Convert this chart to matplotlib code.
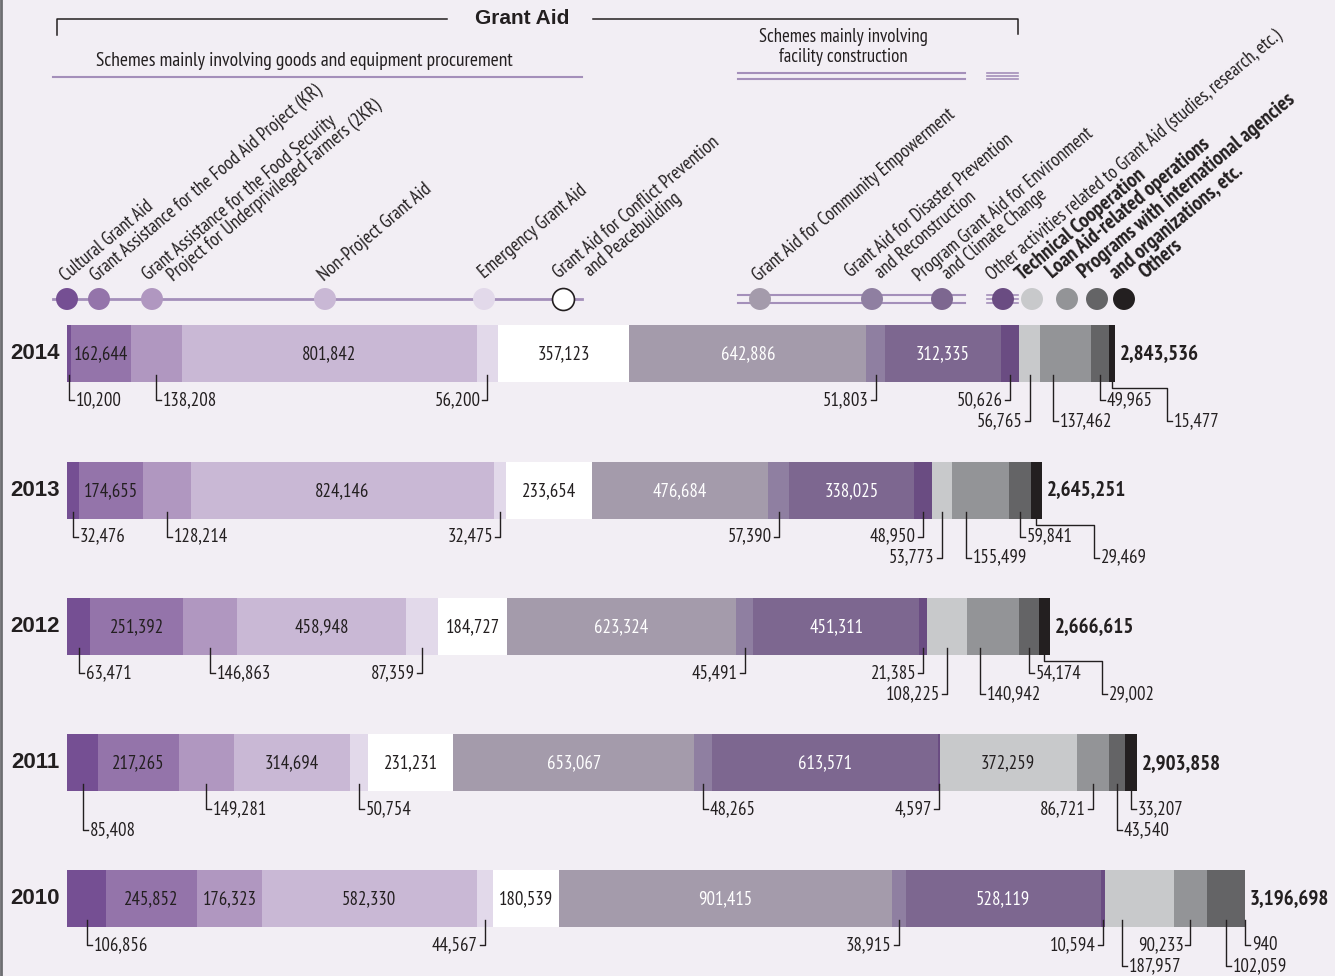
import matplotlib
matplotlib.use('Agg')
import matplotlib.pyplot as plt
from matplotlib import font_manager as fm
import numpy as np

# ---------------- data ----------------
years = ['2014', '2013', '2012', '2011', '2010']
categories = [
    'Cultural Grant Aid',
    'Grant Assistance for the Food Aid Project (KR)',
    'Grant Assistance for the Food Security\nProject for Underprivileged Farmers (2KR)',
    'Non-Project Grant Aid',
    'Emergency Grant Aid',
    'Grant Aid for Conflict Prevention\nand Peacebuilding',
    'Grant Aid for Community Empowerment',
    'Grant Aid for Disaster Prevention\nand Reconstruction',
    'Program Grant Aid for Environment\nand Climate Change',
    'Other activities related to Grant Aid (studies, research, etc.)',
    'Technical Cooperation',
    'Loan Aid-related operations',
    'Programs with international agencies\nand organizations, etc.',
    'Others',
]
v2014 = [10200, 162644, 138208, 801842, 56200, 357123, 642886, 51803, 312335, 50626, 56765, 137462, 49965, 15477]
v2013 = [32476, 174655, 128214, 824146, 32475, 233654, 476684, 57390, 338025, 48950, 53773, 155499, 59841, 29469]
v2012 = [63471, 251392, 146863, 458948, 87359, 184727, 623324, 45491, 451311, 21385, 108225, 140942, 54174, 29002]
v2011 = [85408, 217265, 149281, 314694, 50754, 231231, 653067, 48265, 613571, 4597, 372259, 86721, 43540, 33207]
v2010 = [106856, 245852, 176323, 582330, 44567, 180539, 901415, 38915, 528119, 10594, 187957, 90233, 102059, 940]
totals = [2843536, 2645251, 2666615, 2903858, 3196698]
values = [v2014, v2013, v2012, v2011, v2010]

# ---------------- styling ----------------
colors = ['#754f93', '#9474aa', '#b097c0', '#c9b8d5', '#e2d9ea', '#ffffff',
          '#a49bab', '#8f7fa1', '#7d6790', '#6a4c82',
          '#c8c9cb', '#939497', '#646466', '#231f20']
white_text = {6, 8}
BG = '#f2eef4'
DARK = '#231f20'
PURPLE_LINE = '#a48fba'

names = {f.name for f in fm.fontManager.ttflist}


def pick(cands, default='DejaVu Sans'):
    for c in cands:
        if c in names:
            return c
    return default


NARROW = dict(family=pick(['PT Sans Narrow', 'Roboto Condensed', 'Fira Sans Condensed',
                           'Liberation Sans Narrow']))
WIDE = pick(['Liberation Sans', 'DejaVu Sans'])

# which segments carry their label inside the bar
inside = [[1, 3, 5, 6, 8], [1, 3, 5, 6, 8], [1, 3, 5, 6, 8],
          [1, 3, 5, 6, 8, 10], [1, 2, 3, 5, 6, 8]]
# callouts: (segment, side of text, level)
callouts = [
    [(0, 'R', 1), (2, 'R', 1), (4, 'L', 1), (7, 'L', 1), (9, 'L', 1), (10, 'L', 2),
     (11, 'R', 2), (12, 'R', 1), (13, 'E', 2)],
    [(0, 'R', 1), (2, 'R', 1), (4, 'L', 1), (7, 'L', 1), (9, 'L', 1), (10, 'L', 2),
     (11, 'R', 2), (12, 'R', 1), (13, 'E', 2)],
    [(0, 'R', 1), (2, 'R', 1), (4, 'L', 1), (7, 'L', 1), (9, 'L', 1), (10, 'L', 2),
     (11, 'R', 2), (12, 'R', 1), (13, 'E', 2)],
    [(0, 'R', 2), (2, 'R', 1), (4, 'R', 1), (7, 'R', 1), (9, 'L', 1), (11, 'L', 1),
     (12, 'R', 2), (13, 'R', 1)],
    [(0, 'R', 1), (4, 'L', 1), (7, 'L', 1), (9, 'L', 1), (10, 'R', 2), (11, 'L', 1),
     (12, 'R', 2), (13, 'R', 1)],
]

# ---------------- figure ----------------
W, H = 1335, 976
fig = plt.figure(figsize=(W / 100, H / 100), dpi=100)
fig.patch.set_facecolor(BG)
ax = fig.add_axes([0, 0, 1, 1])
ax.set_facecolor(BG)
ax.axis('off')
X0 = 67
S = totals[-1] / 1178.0          # value units per pixel
ax.set_xlim(-X0 * S, (W - X0) * S)
ax.set_ylim(H, 0)


def px(p):
    return (p - X0) * S


bar_y = [353.5, 490, 626.5, 762.5, 898.5]
BAR_H = 57
NUM_FS = 13.5

for yi, vals in enumerate(values):
    vals = np.array(vals, dtype=float)
    lefts = np.concatenate([[0], np.cumsum(vals)[:-1]])
    yc = bar_y[yi]
    ax.barh(yc, vals, left=lefts, height=BAR_H, color=colors, edgecolor='none', zorder=2)
    for i in inside[yi]:
        ax.text(lefts[i] + vals[i] / 2, yc + 1, f'{int(vals[i]):,}', ha='center', va='center',
                fontsize=NUM_FS, color='white' if i in white_text else DARK, zorder=4, **NARROW)
    bottom = yc + BAR_H / 2
    for (i, side, lev) in callouts[yi]:
        w = vals[i] / S
        if i >= 10 and w >= 45:
            lx = lefts[i] + 0.25 * vals[i]
        else:
            lx = lefts[i] + vals[i] / 2
        ly = bottom + (18 if lev == 1 else 39)
        if side == 'E':
            ex = lefts[i] + vals[i] + 52 * S
            ax.plot([lx, lx, ex, ex, ex + 5 * S], [bottom - 7, bottom + 6, bottom + 6, ly, ly],
                    color=DARK, lw=1.0, zorder=3)
            ax.text(ex + 7 * S, ly, f'{int(vals[i]):,}', ha='left', va='center',
                    fontsize=NUM_FS, color=DARK, **NARROW)
        else:
            sgn = 1 if side == 'R' else -1
            ax.plot([lx, lx, lx + sgn * 5 * S], [bottom - 7, ly, ly], color=DARK, lw=1.0, zorder=3)
            ax.text(lx + sgn * 7 * S, ly, f'{int(vals[i]):,}', ha='left' if sgn > 0 else 'right',
                    va='center', fontsize=NUM_FS, color=DARK, **NARROW)
    ax.text(totals[yi] + 5 * S, yc + 1, f'{totals[yi]:,}', ha='left', va='center',
            fontsize=15, fontweight='bold', color=DARK, **NARROW)
    ax.text(px(35), yc, years[yi], ha='center', va='center', fontsize=16,
            fontweight='bold', color=DARK, family=WIDE)

# left border
ax.plot([px(1), px(1)], [0, H], color='#6d6e71', lw=2, zorder=5)

# ---------------- header ----------------
ax.plot([px(57), px(57), px(447)], [35, 19, 19], color=DARK, lw=1.1)
ax.plot([px(593), px(1018), px(1018)], [19, 19, 34], color=DARK, lw=1.1)
ax.text(px(522), 19, 'Grant Aid', ha='center', va='center', fontsize=15,
        fontweight='bold', color=DARK, family=WIDE)
ax.text(px(304), 61, 'Schemes mainly involving goods and equipment procurement',
        ha='center', va='center', fontsize=14, color=DARK, **NARROW)
ax.plot([px(53), px(582)], [77, 77], color=PURPLE_LINE, lw=1.5)
ax.text(px(843), 47, 'Schemes mainly involving\nfacility construction', ha='center',
        va='center', fontsize=13.5, color=DARK, linespacing=1.1, **NARROW)
for yy in (73, 79):
    ax.plot([px(738), px(965)], [yy, yy], color=PURPLE_LINE, lw=1.5)
for yy in (73, 76, 79):
    ax.plot([px(987), px(1018)], [yy, yy], color=PURPLE_LINE, lw=1.2)

# ---------------- legend ----------------
ax.plot([px(53), px(582)], [299, 299], color=PURPLE_LINE, lw=2)
for yy in (295, 303):
    ax.plot([px(738), px(965)], [yy, yy], color=PURPLE_LINE, lw=1.5)
for yy in (295, 299, 303):
    ax.plot([px(987), px(1018)], [yy, yy], color=PURPLE_LINE, lw=1.2)

circle_x = [67, 99, 152, 325, 484, 563, 760, 872, 942, 1003, 1032, 1067, 1097, 1124]
for i, cx in enumerate(circle_x):
    ec = DARK if colors[i] == '#ffffff' else 'none'
    ax.scatter([px(cx)], [299], s=250, color=colors[i], edgecolors=ec, linewidths=1.2, zorder=4)

# baseline start of every line of every legend label (pixels)
line_anchor = [
    [(66, 282)],
    [(96, 282)],
    [(148, 281), (173, 282)],
    [(323, 281)],
    [(484, 279)],
    [(559, 279), (590, 277)],
    [(758, 282)],
    [(851, 278), (881, 279)],
    [(919, 282), (948, 280)],
    [(992, 281)],
    [(1022, 281)],
    [(1052, 279)],
    [(1084, 279), (1116, 280)],
    [(1145, 279)],
]
for i, anchors in enumerate(line_anchor):
    bold = i >= 10
    for line, (lxp, lyp) in zip(categories[i].split('\n'), anchors):
        ax.text(px(lxp), lyp, line, rotation=40, rotation_mode='anchor',
                ha='left', va='baseline', fontsize=15 if bold else 13.5,
                fontweight='bold' if bold else 'normal', color=DARK, **NARROW)

fig.savefig('out.png', dpi=100, facecolor=BG)
